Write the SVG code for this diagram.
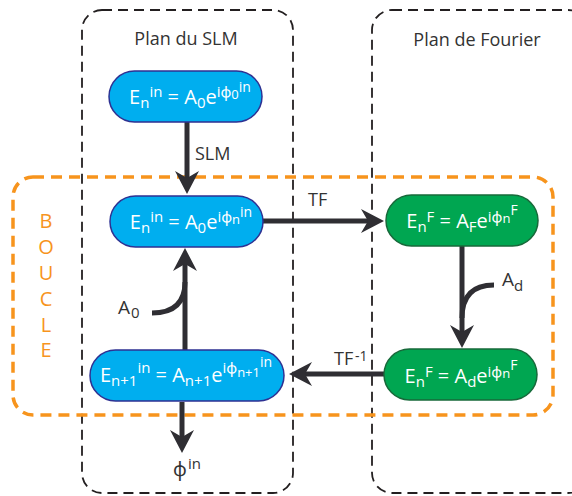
<svg xmlns="http://www.w3.org/2000/svg" width="572" height="496" viewBox="0 0 572 496">
<defs>
<style>
.plane{fill:none;stroke:#231f20;stroke-width:1.8;stroke-dasharray:10 6}
.loop{fill:none;stroke:#f7941d;stroke-width:3.5;stroke-dasharray:11 7}
.blue{fill:#00aeef;stroke:#2e3192;stroke-width:1.5}
.green{fill:#00a651;stroke:#17693a;stroke-width:1.5}
.arr{fill:none;stroke:#2f2e33;stroke-width:5;marker-end:url(#head)}
.feed{fill:none;stroke:#2f2e33;stroke-width:5}
text{font-family:"Open Sans","Noto Sans","DejaVu Sans",sans-serif}
.f{fill:#ffffff;font-size:20px;text-anchor:middle}
.s{font-size:15px}
.ss{font-size:13px}
.sp{font-size:14px}
.lbl{fill:#333333;font-size:18px}
.title{fill:#333333;font-size:18px;text-anchor:middle}
.boucle{fill:#f7941d;font-size:20px;text-anchor:middle}
</style>
<marker id="head" markerUnits="userSpaceOnUse" markerWidth="24" markerHeight="24" viewBox="0 0 24 24" refX="17" refY="12" orient="auto">
<path d="M0,0 L23,12 L0,24 L7,12 Z" fill="#2f2e33"/>
</marker>
</defs>

<g id="plan-slm">
<rect class="plane" x="82" y="10" width="211" height="483" rx="20"/>
<text class="title" x="186" y="45">Plan du SLM</text>
</g>
<g id="plan-fourier">
<rect class="plane" x="372" y="10" width="216" height="483" rx="20"/>
<text class="title" x="477" y="46">Plan de Fourier</text>
</g>
<g id="boucle">
<rect class="loop" x="13" y="177" width="540" height="238" rx="20"/>
<text class="boucle" x="46" y="228">B</text>
<text class="boucle" x="46" y="254">O</text>
<text class="boucle" x="46" y="280">U</text>
<text class="boucle" x="46" y="306">C</text>
<text class="boucle" x="46" y="332">L</text>
<text class="boucle" x="46" y="357">E</text>
</g>

<g id="connectors">
<line class="arr" x1="187" y1="122" x2="187" y2="188"/>
<text class="lbl" x="195" y="160">SLM</text>
<line class="arr" x1="263" y1="221" x2="378" y2="221"/>
<text class="lbl" x="308" y="206">TF</text>
<line class="arr" x1="462" y1="246" x2="462" y2="342"/>
<path class="feed" d="M494,285 Q462,285 462,318"/>
<text class="lbl" x="502" y="286" style="font-size:19px">A<tspan class="s" dy="5">d</tspan></text>
<line class="arr" x1="384" y1="374" x2="295" y2="374"/>
<text class="lbl" x="334" y="365">TF<tspan x="355" y="361" style="font-size:14px">-1</tspan></text>
<line class="arr" x1="185" y1="350" x2="185" y2="254"/>
<path class="feed" d="M152,313 Q185,313 185,282"/>
<text class="lbl" x="118" y="314" style="font-size:19px">A<tspan class="s" x="131" y="318">0</tspan></text>
<line class="arr" x1="182" y1="402" x2="182" y2="447"/>
<text class="lbl" x="173" y="476" style="font-size:19px">ϕ<tspan class="s" x="188" y="469">in</tspan></text>
</g>

<g id="node-e0">
<rect class="blue" x="109" y="71" width="153" height="51" rx="25.5"/>
<text class="f" x="190" y="104">E<tspan class="s" dy="4">n</tspan><tspan class="s" dy="-11">in</tspan><tspan dy="7"> = A</tspan><tspan class="s" dy="4">0</tspan><tspan dy="-4">e</tspan><tspan class="s" dy="-7">iϕ</tspan><tspan class="ss" dy="2">0</tspan><tspan class="sp" dy="-7">in</tspan></text>
</g>

<g id="node-en">
<rect class="blue" x="110" y="196" width="153" height="51" rx="25.5"/>
<text class="f" x="191" y="229">E<tspan class="s" dy="4">n</tspan><tspan class="s" dy="-11">in</tspan><tspan dy="7"> = A</tspan><tspan class="s" dy="4">0</tspan><tspan dy="-4">e</tspan><tspan class="s" dy="-7">iϕ</tspan><tspan class="ss" dy="2">n</tspan><tspan class="sp" dy="-7">in</tspan></text>
</g>

<g id="node-en1">
<rect class="blue" x="90" y="350" width="194" height="51" rx="25.5"/>
<text class="f" x="186" y="382">E<tspan class="s" dy="4">n+1</tspan><tspan class="s" dy="-13">in</tspan><tspan dy="9"> = A</tspan><tspan class="s" dy="4">n+1</tspan><tspan dy="-4">e</tspan><tspan class="s" dy="-9">iϕ</tspan><tspan class="ss" dy="4">n+1</tspan><tspan class="sp" dy="-10">in</tspan></text>
</g>

<g id="node-fourier">
<rect class="green" x="386" y="195" width="152" height="51" rx="25.5"/>
<text class="f" x="462" y="228">E<tspan class="s" dy="4">n</tspan><tspan class="s" dy="-10">F</tspan><tspan dy="6"> = A</tspan><tspan class="s" dy="4">F</tspan><tspan dy="-4">e</tspan><tspan class="s" dy="-6">iϕ</tspan><tspan class="ss" dy="1">n</tspan><tspan class="sp" dy="-8">F</tspan></text>
</g>

<g id="node-fourier-d">
<rect class="green" x="384" y="349" width="153" height="51" rx="25.5"/>
<text class="f" x="461" y="383">E<tspan class="s" dy="4">n</tspan><tspan class="s" dy="-10">F</tspan><tspan dy="6"> = A</tspan><tspan class="s" dy="4">d</tspan><tspan dy="-4">e</tspan><tspan class="s" dy="-6">iϕ</tspan><tspan class="ss" dy="1">n</tspan><tspan class="sp" dy="-8">F</tspan></text>
</g>
</svg>
